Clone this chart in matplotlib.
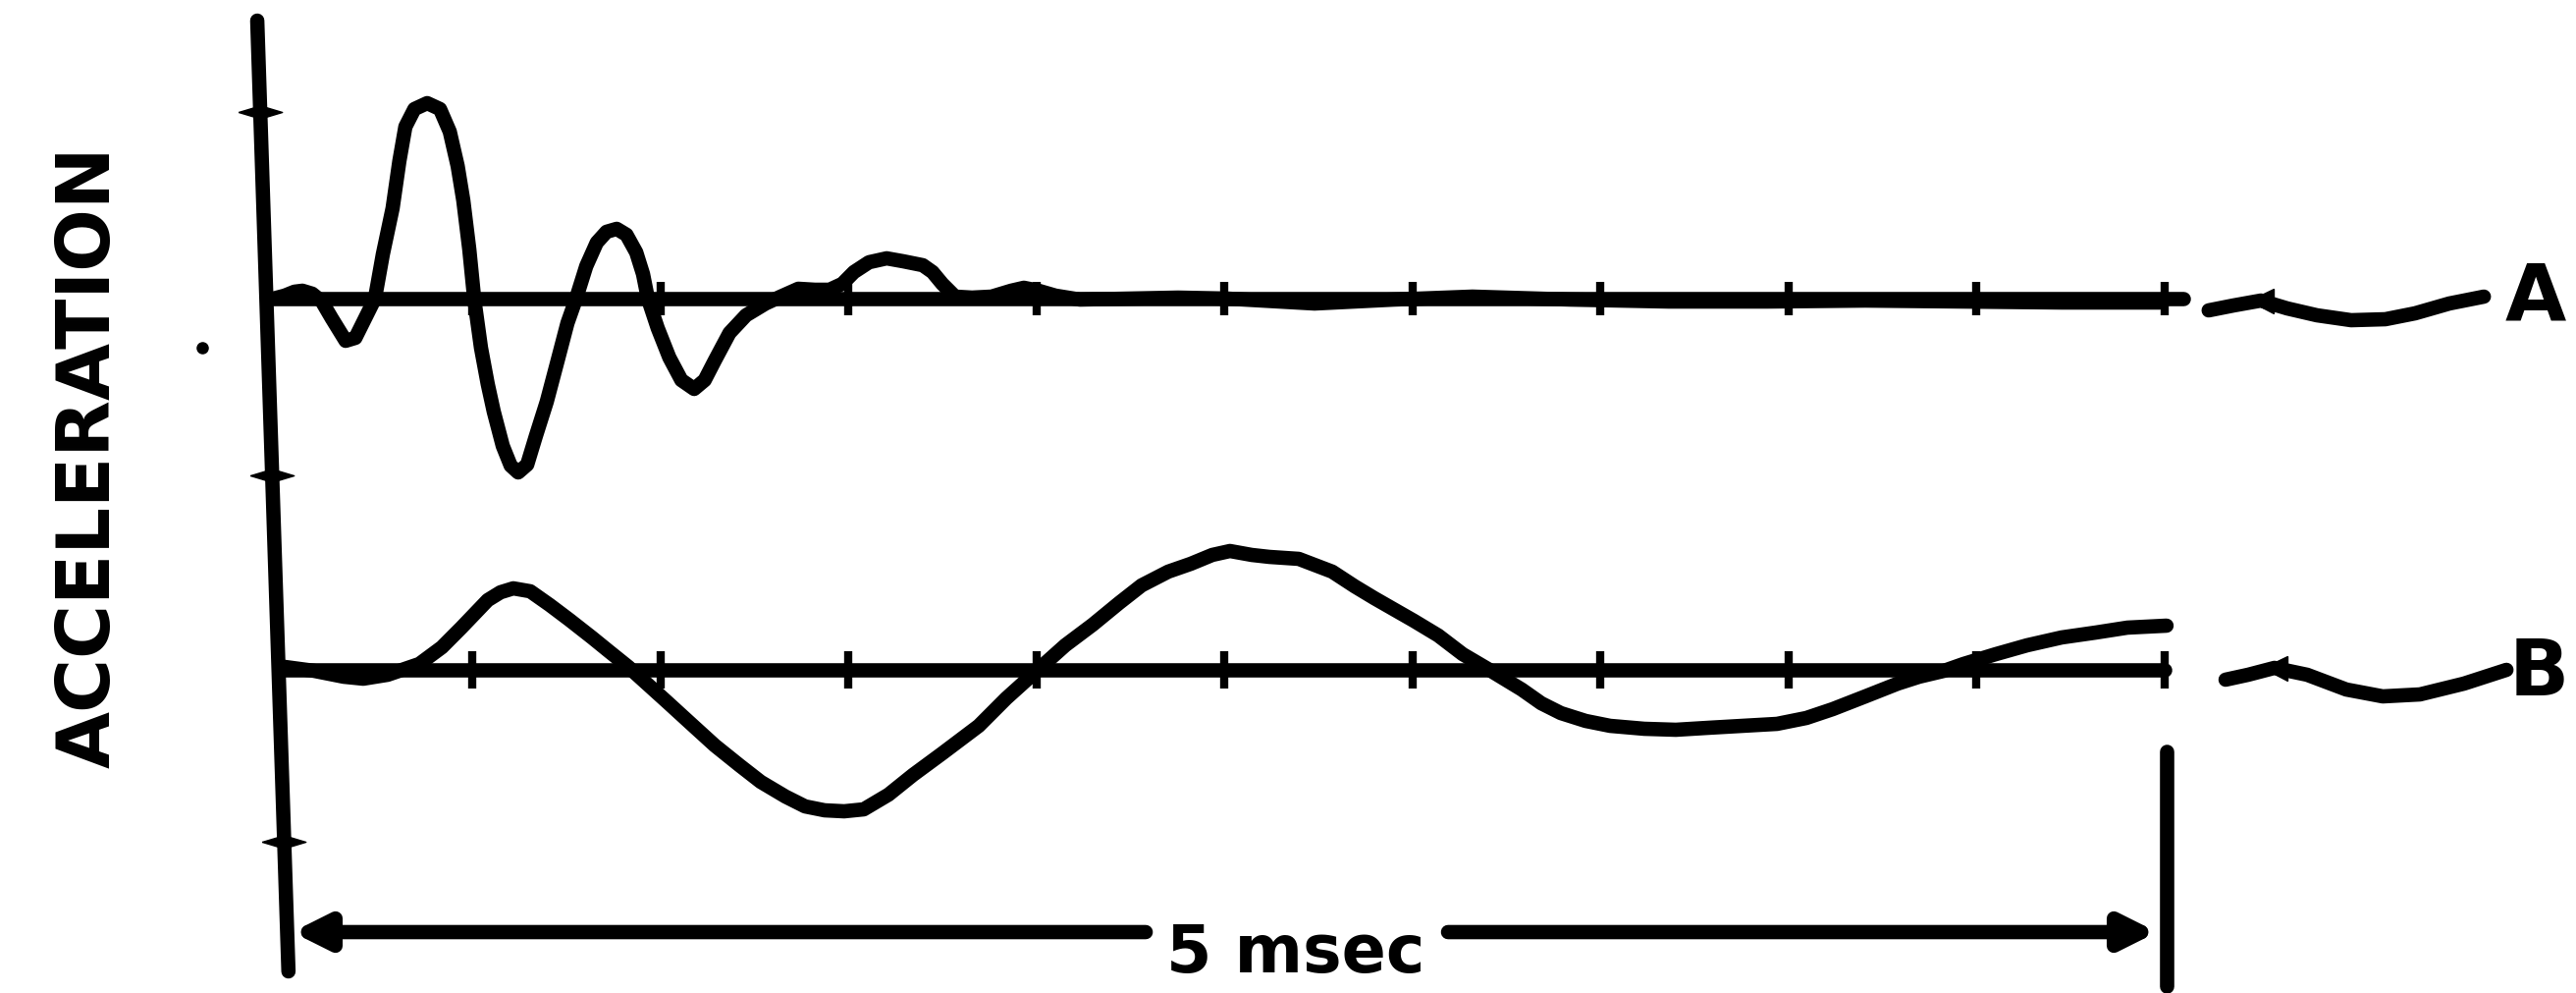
import numpy as np
import matplotlib
matplotlib.use('Agg')
from matplotlib import pyplot as plt
from matplotlib import font_manager

# trace A (upper): time in msec, acceleration relative to its zero line
t_a = [-0.03, 0.0, 0.026, 0.047, 0.073, 0.099, 0.125, 0.162, 0.188, 0.214, 0.240,
       0.261, 0.287, 0.305, 0.321, 0.345, 0.379, 0.413, 0.439, 0.460, 0.475, 0.491,
       0.504, 0.522, 0.540, 0.556, 0.580, 0.601, 0.621, 0.645, 0.668, 0.697, 0.726,
       0.752, 0.775, 0.802, 0.830, 0.856, 0.883, 0.909, 0.935, 0.953, 0.966, 0.992,
       1.023, 1.055, 1.089, 1.117, 1.144, 1.183, 1.227, 1.279, 1.319, 1.366, 1.410,
       1.449, 1.483, 1.514, 1.554, 1.601, 1.645, 1.697, 1.723, 1.749, 1.783, 1.828,
       1.880, 1.932, 1.966, 2.005, 2.050, 2.115, 2.245, 2.376, 2.507, 2.739, 2.950,
       3.159, 3.420, 3.681, 3.943, 4.204, 4.465, 4.726, 4.987]
acc_a = [0.0, 0.03, 0.07, 0.08, 0.05, -0.03, -0.20, -0.43, -0.40, -0.20, 0.0,
         0.45, 0.92, 1.40, 1.75, 1.93, 1.99, 1.93, 1.70, 1.35, 1.00, 0.50,
         0.0, -0.50, -0.87, -1.15, -1.50, -1.70, -1.77, -1.69, -1.40, -1.05, -0.63,
         -0.25, 0.0, 0.33, 0.57, 0.68, 0.71, 0.65, 0.47, 0.25, 0.0, -0.30,
         -0.60, -0.83, -0.92, -0.83, -0.63, -0.35, -0.17, -0.05, 0.02, 0.10, 0.09,
         0.09, 0.15, 0.27, 0.37, 0.41, 0.38, 0.34, 0.27, 0.15, 0.02, 0.01,
         0.02, 0.08, 0.11, 0.08, 0.03, -0.01, 0.0, 0.01, 0.0, -0.05, -0.01,
         0.02, -0.01, -0.03, -0.03, -0.02, -0.03, -0.04, -0.04]

# trace B (lower)
t_b = [0.0, 0.078, 0.157, 0.209, 0.274, 0.358, 0.418, 0.470, 0.540, 0.574, 0.608,
       0.653, 0.705, 0.757, 0.817, 0.862, 0.914, 0.966, 1.018, 1.078, 1.144, 1.209,
       1.266, 1.332, 1.384, 1.436, 1.488, 1.540, 1.606, 1.671, 1.749, 1.846, 1.919,
       2.003, 2.076, 2.149, 2.219, 2.279, 2.350, 2.410, 2.467, 2.514, 2.572, 2.619,
       2.697, 2.786, 2.846, 2.898, 3.003, 3.068, 3.133, 3.204, 3.290, 3.342, 3.394,
       3.460, 3.525, 3.616, 3.700, 3.786, 3.877, 3.969, 4.047, 4.117, 4.204, 4.290,
       4.347, 4.413, 4.465, 4.551, 4.634, 4.726, 4.817, 4.901, 5.005]
acc_b = [0.03, -0.01, -0.07, -0.09, -0.05, 0.06, 0.23, 0.43, 0.71, 0.79, 0.83,
         0.80, 0.66, 0.51, 0.33, 0.19, 0.03, -0.15, -0.33, -0.54, -0.77, -0.97,
         -1.14, -1.29, -1.39, -1.43, -1.44, -1.42, -1.27, -1.07, -0.85, -0.57, -0.29,
         0.0, 0.25, 0.46, 0.68, 0.86, 1.00, 1.08, 1.17, 1.21, 1.17, 1.15,
         1.13, 1.00, 0.85, 0.73, 0.50, 0.35, 0.16, 0.0, -0.20, -0.34, -0.44,
         -0.52, -0.57, -0.60, -0.61, -0.59, -0.57, -0.55, -0.49, -0.40, -0.27, -0.14,
         -0.07, -0.01, 0.06, 0.16, 0.25, 0.33, 0.38, 0.43, 0.45]

tick_times = [0.5, 1.0, 1.5, 2.0, 2.5, 3.0, 3.5, 4.0, 4.5, 5.0]

# wavy leader lines from the traces to the labels
lead_t_a = [5.117, 5.183, 5.256, 5.326, 5.405, 5.496, 5.587, 5.666, 5.757, 5.849]
lead_y_a = [-0.12, -0.07, -0.02, -0.10, -0.17, -0.22, -0.21, -0.15, -0.05, 0.02]
lead_t_b = [5.162, 5.222, 5.292, 5.379, 5.483, 5.580, 5.679, 5.796, 5.909]
lead_y_b = [-0.10, -0.05, 0.02, -0.05, -0.20, -0.27, -0.25, -0.14, 0.0]

trace_labels = ['A', 'B']
span_label = '5 msec'
y_label = 'ACCELERATION'

# layout (data units: x = msec, y = figure height / 100 px)
A_ZERO = 7.07
B_ZERO = 3.29
AXIS_T = [-0.073, 0.010]
AXIS_Y = [9.90, 0.22]
AXIS_MARKS = [8.97, 5.27, 1.54]
DIM_Y = 0.62
LW = 10.5

names = {f.name for f in font_manager.fontManager.ttflist}
if 'Liberation Sans Narrow' in names:
    span_font, span_size = 'Liberation Sans Narrow', 66
else:
    span_font, span_size = 'DejaVu Sans', 48

fig = plt.figure(figsize=(26.24, 10.12), dpi=100)
ax = fig.add_axes([0, 0, 1, 1])
ax.set_xlim(-290 / 383, (2624 - 290) / 383)
ax.set_ylim(0, 10.12)
ax.axis('off')

line_kw = dict(color='black', lw=LW, solid_capstyle='round', solid_joinstyle='round')

# vertical axis (slightly slanted, as drawn)
ax.plot(AXIS_T, AXIS_Y, **line_kw)
mark_t = np.interp(AXIS_MARKS, AXIS_Y[::-1], AXIS_T[::-1])
diamond = [(-1, 0), (0, 0.3), (1, 0), (0, -0.3), (-1, 0)]
ax.plot(mark_t, AXIS_MARKS, ls='none', marker=diamond, ms=32, color='black')
ax.plot([-0.219], [6.57], ls='none', marker='o', ms=8, color='black')

# zero lines with time ticks
ax.plot([-0.03, 5.05], [A_ZERO, A_ZERO], **line_kw)
ax.plot([-0.016, 5.0], [B_ZERO, B_ZERO], **line_kw)
ax.plot(tick_times, [A_ZERO] * len(tick_times), ls='none', marker='|', ms=24, mew=6, color='black')
ax.plot(tick_times, [B_ZERO] * len(tick_times), ls='none', marker='|', ms=28, mew=6, color='black')

# the two traces
ax.plot(t_a, np.array(acc_a) + A_ZERO, **line_kw)
ax.plot(t_b, np.array(acc_b) + B_ZERO, **line_kw)

# leaders and labels
ax.plot(lead_t_a, np.array(lead_y_a) + A_ZERO, **line_kw)
ax.plot(lead_t_b, np.array(lead_y_b) + B_ZERO, **line_kw)
ax.plot([lead_t_a[2]], [lead_y_a[2] + A_ZERO], ls='none', marker='<', ms=18, color='black')
ax.plot([lead_t_b[2]], [lead_y_b[2] + B_ZERO], ls='none', marker='<', ms=18, color='black')
ax.text(5.985, A_ZERO, trace_labels[0], fontsize=58, fontweight='bold',
        ha='center', va='center', family='DejaVu Sans')
ax.text(5.995, B_ZERO - 0.03, trace_labels[1], fontsize=58, fontweight='bold',
        ha='center', va='center', family='DejaVu Sans')

# y label
ax.text(-0.52, 5.47, y_label, rotation=90, fontsize=54, fontweight='bold',
        ha='center', va='center', family='DejaVu Sans')

# 5 msec dimension line
arrow_kw = dict(arrowstyle='-|>', color='black', lw=LW, mutation_scale=50,
                shrinkA=0, shrinkB=0)
ax.annotate('', xy=(0.02, DIM_Y), xytext=(2.29, DIM_Y), arrowprops=arrow_kw)
ax.annotate('', xy=(4.98, DIM_Y), xytext=(3.094, DIM_Y), arrowprops=arrow_kw)
ax.plot([5.005, 5.005], [0.07, 2.46], **line_kw)
ax.text(2.689, 0.22, span_label, fontsize=span_size, fontweight='bold',
        ha='center', va='baseline', family=span_font)

fig.savefig('out.png', dpi=100)
